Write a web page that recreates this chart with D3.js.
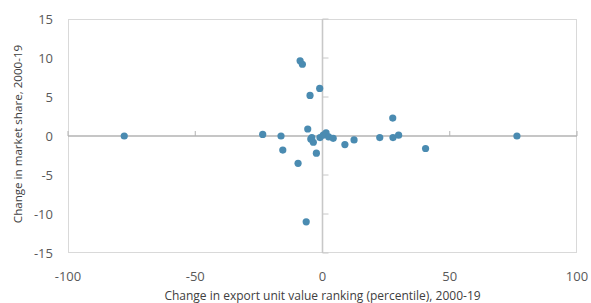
<!DOCTYPE html>
<html><head><meta charset="utf-8">
<script src="https://cdn.jsdelivr.net/npm/d3@7"></script>
<style>body{margin:0;background:#fff;} svg{display:block;}</style>
</head><body>
<svg id="c" width="591" height="303"></svg>
<script>
const xValues = [-8.8, -7.9, -1.1, -4.9, -5.8, -16.3, -15.6, -9.6, -2.4, -4.6, -3.6, -4.2, -1.0, 0.3, 1.4, 2.4, 4.2, 8.8, 12.4, 22.5, -6.4, -77.9, -23.5, 27.6, 27.7, 29.9, 40.5, 76.4];
const yValues = [9.65, 9.2, 6.1, 5.2, 0.9, 0.0, -1.8, -3.5, -2.2, -0.4, -0.8, -0.2, -0.2, 0.1, 0.4, -0.1, -0.3, -1.1, -0.5, -0.2, -11.0, 0.0, 0.2, 2.3, -0.2, 0.1, -1.6, 0.0];
const xTicks = [-100, -50, 0, 50, 100];
const yTicks = [-15, -10, -5, 0, 5, 10, 15];
const xTitle = "Change in export unit value ranking (percentile), 2000-19";
const yTitle = "Change in market share, 2000-19";

const svg = d3.select("#c");
const L = 68, R = 577, T = 19, B = 253;
const x = d3.scaleLinear().domain([-100, 100]).range([L, R]);
const y = d3.scaleLinear().domain([-15, 15]).range([B, T]);
const font = "'Open Sans', 'Noto Sans', sans-serif";

svg.append("rect").attr("x", L + 0.5).attr("y", T + 0.5).attr("width", R - L - 1).attr("height", B - T - 1)
  .attr("fill", "none").attr("stroke", "#d9d9d9").attr("stroke-width", 1);

// zero axes
svg.append("line").attr("x1", L).attr("x2", R).attr("y1", y(0)).attr("y2", y(0))
  .attr("stroke", "#b3b3b3").attr("stroke-width", 1.3);
svg.append("line").attr("x1", x(0)).attr("x2", x(0)).attr("y1", T).attr("y2", B)
  .attr("stroke", "#c8c8c8").attr("stroke-width", 1.6);

// tick marks on zero axes
svg.selectAll(".xt").data(xTicks).enter().append("line")
  .attr("x1", d => x(d)).attr("x2", d => x(d)).attr("y1", y(0)).attr("y2", y(0) - 5)
  .attr("stroke", "#b3b3b3").attr("stroke-width", 1);
svg.selectAll(".yt").data(yTicks).enter().append("line")
  .attr("x1", x(0)).attr("x2", x(0) + 6).attr("y1", d => y(d)).attr("y2", d => y(d))
  .attr("stroke", "#c8c8c8").attr("stroke-width", 1);

// tick labels
svg.selectAll(".xl").data(xTicks).enter().append("text")
  .attr("x", d => x(d)).attr("y", 281).attr("text-anchor", "middle")
  .attr("font-family", font).attr("font-size", 13).attr("fill", "#595959").text(d => d);
svg.selectAll(".yl").data(yTicks).enter().append("text")
  .attr("x", 53).attr("y", d => y(d) + 5).attr("text-anchor", "end")
  .attr("font-family", font).attr("font-size", 13).attr("fill", "#595959").text(d => d);

// titles
svg.append("text").attr("x", x(0)).attr("y", 300).attr("text-anchor", "middle")
  .attr("font-family", font).attr("font-size", 12).attr("fill", "#404040").text(xTitle);
svg.append("text").attr("transform", `translate(22,134) rotate(-90)`).attr("text-anchor", "middle")
  .attr("font-family", font).attr("font-size", 11.6).attr("fill", "#404040").text(yTitle);

// points
svg.selectAll(".p").data(xValues.map((v, i) => [v, yValues[i]])).enter().append("circle")
  .attr("cx", d => x(d[0])).attr("cy", d => y(d[1])).attr("r", 3.6).attr("fill", "#4a8bb1");
</script>
</body></html>
